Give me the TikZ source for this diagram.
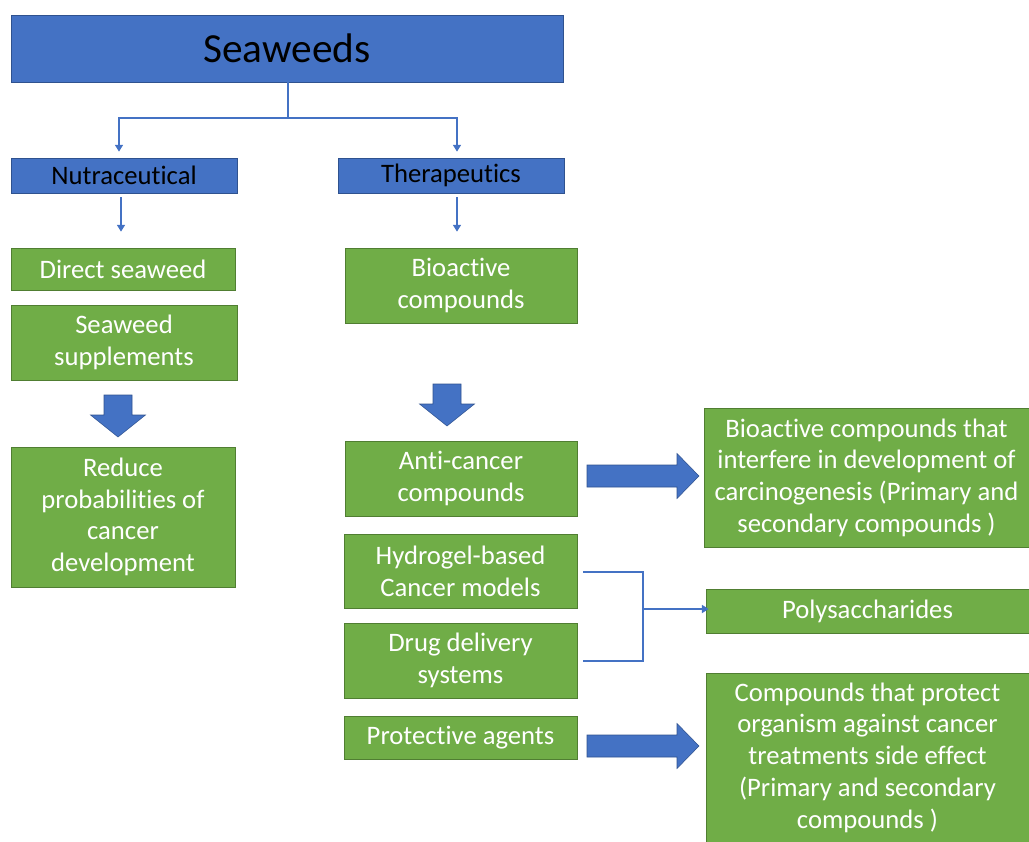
\documentclass[tikz,border=0pt]{standalone}
\usepackage{fontspec}
\setmainfont{Carlito}[Ligatures=NoCommon]
\usetikzlibrary{arrows.meta}

\definecolor{boxblue}{HTML}{4472C4}
\definecolor{boxblueline}{HTML}{2F528F}
\definecolor{boxgreen}{HTML}{70AD47}
\definecolor{boxgreenline}{HTML}{507E32}

\begin{document}
\begin{tikzpicture}[x=0.75pt, y=-0.75pt, thick,
    blue node/.style={rectangle,draw=boxblueline,fill=boxblue,line width=0.6pt,inner sep=0pt,text=black,font=\fontsize{20}{24}\selectfont},
    green node/.style={rectangle,draw=boxgreenline,fill=boxgreen,line width=0.6pt,inner sep=0pt,text=white,align=center,font=\fontsize{20}{23.8}\selectfont},
    thin link/.style={draw=boxblue,line width=0.8pt},
    link/.style={draw=boxblue,line width=1.3pt},
    small tip/.style={-{Triangle[width=6pt,length=5pt]}},
    down block/.pic={\draw[fill=boxblue,draw=boxblueline,line width=0.4pt] (-14,0) -- (14,0) -- (14,20) -- (27.5,20) -- (0,42) -- (-27.5,20) -- (-14,20) -- cycle;},
    right block/.pic={\draw[fill=boxblue,draw=boxblueline,line width=0.4pt] (0,-11) -- (90,-11) -- (90,-22.5) -- (112,0) -- (90,22.5) -- (90,11) -- (0,11) -- cycle;}]

      \useasboundingbox (0,0) rectangle (1029,842);

      \node[blue node, minimum width=552*0.75pt, minimum height=67*0.75pt, font=\fontsize{31}{36}\selectfont] (1) at (287,48.5) {Seaweeds};
      \node[blue node, minimum width=226*0.75pt, minimum height=35*0.75pt] (2) at (124,175.5) {Nutraceutical};
      \node[blue node, minimum width=226*0.75pt, minimum height=35*0.75pt] (3) at (451,175.5) {Therapeutics};

      \node[green node, minimum width=224*0.75pt, minimum height=42*0.75pt] (4) at (123,269) {Direct seaweed};
      \node[green node, minimum width=226*0.75pt, minimum height=75*0.75pt] (5) at (124,342.5) {Seaweed\\supplements};
      \node[green node, minimum width=224*0.75pt, minimum height=140*0.75pt] (6) at (123,517) {Reduce\\probabilities of\\cancer\\development};

      \node[green node, minimum width=232*0.75pt, minimum height=75*0.75pt] (7) at (461,285.5) {Bioactive\\compounds};
      \node[green node, minimum width=232*0.75pt, minimum height=75*0.75pt] (8) at (461,478.5) {Anti-cancer\\compounds};
      \node[green node, minimum width=233*0.75pt, minimum height=74*0.75pt] (9) at (460.5,571) {Hydrogel-based\\Cancer models};
      \node[green node, minimum width=233*0.75pt, minimum height=75*0.75pt] (10) at (460.5,660.5) {Drug delivery\\systems};
      \node[green node, minimum width=233*0.75pt, minimum height=43*0.75pt] (11) at (460.5,737.5) {Protective agents};

      \node[green node, minimum width=325*0.75pt, minimum height=139*0.75pt] (12) at (866.5,477.5) {Bioactive compounds that\\interfere in development of\\carcinogenesis (Primary and\\secondary compounds )};
      \node[green node, minimum width=323*0.75pt, minimum height=44*0.75pt] (13) at (867.5,611) {Polysaccharides};
      \node[green node, minimum width=323*0.75pt, minimum height=169*0.75pt] (14) at (867.5,757.5) {Compounds that protect\\organism against cancer\\treatments side effect\\(Primary and secondary\\compounds )};

      % tree from the top
      \coordinate (j) at (288,118);
      \path[thin link] (1.south -| j) -- (j);
      \path[thin link, small tip] (j) -| ([xshift=-5*0.75pt, yshift=6*0.75pt]2.north);
      \path[thin link, small tip] (j) -| ([xshift=6*0.75pt, yshift=6*0.75pt]3.north);
      \path[thin link, small tip] ([xshift=-3*0.75pt, yshift=-4*0.75pt]2.south) -- ([xshift=-3*0.75pt, yshift=16*0.75pt]4.north -| 2.south);
      \path[thin link, small tip] ([xshift=6*0.75pt, yshift=-4*0.75pt]3.south) -- ([xshift=6*0.75pt, yshift=16*0.75pt]7.north -| 3.south);

      % bracket to polysaccharides
      \coordinate (k) at (643,609);
      \path[link] ([xshift=6*0.75pt, yshift=-1*0.75pt]9.east) -| (k);
      \path[link] ([xshift=6*0.75pt, yshift=-0.5*0.75pt]10.east) -| (k);
      \path[link, small tip] (k) -- ([xshift=3*0.75pt]k -| 13.west);

      % block arrows
      \pic at (118,395) {down block};
      \pic at (447,384) {down block};
      \pic at (587,476) {right block};
      \pic at (587,746) {right block};

\end{tikzpicture}
\end{document}
